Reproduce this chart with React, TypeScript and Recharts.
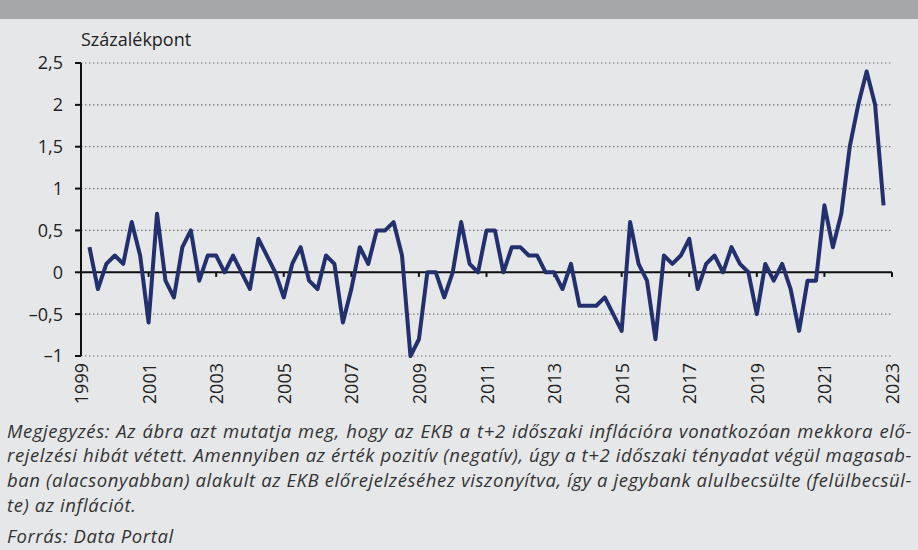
import React from 'react';
import { LineChart, Line, XAxis, YAxis, CartesianGrid, ReferenceLine } from 'recharts';

// Quarterly ECB t+2 forecast error (percentage points), first quarter shown ~1999 Q2
const firstPeriod = 1999.25;
const periodStep = 0.25;
const forecastError: number[] = [
  0.3, -0.2, 0.1, 0.2, 0.1, 0.6, 0.2, -0.6, 0.7, -0.1, -0.3, 0.3,
  0.5, -0.1, 0.2, 0.2, 0.0, 0.2, 0.0, -0.2, 0.4, 0.2, 0.0, -0.3,
  0.1, 0.3, -0.1, -0.2, 0.2, 0.1, -0.6, -0.2, 0.3, 0.1, 0.5, 0.5,
  0.6, 0.2, -1.0, -0.8, 0.0, 0.0, -0.3, 0.0, 0.6, 0.1, 0.0, 0.5,
  0.5, 0.0, 0.3, 0.3, 0.2, 0.2, 0.0, 0.0, -0.2, 0.1, -0.4, -0.4,
  -0.4, -0.3, -0.5, -0.7, 0.6, 0.1, -0.1, -0.8, 0.2, 0.1, 0.2, 0.4,
  -0.2, 0.1, 0.2, 0.0, 0.3, 0.1, 0.0, -0.5, 0.1, -0.1, 0.1, -0.2,
  -0.7, -0.1, -0.1, 0.8, 0.3, 0.7, 1.5, 2.0, 2.4, 2.0, 0.8,
];
const xTicks = [1999, 2001, 2003, 2005, 2007, 2009, 2011, 2013, 2015, 2017, 2019, 2021, 2023];
const yTicks = [-1, -0.5, 0, 0.5, 1, 1.5, 2, 2.5];

const unitLabel = 'Százalékpont';
const noteLines = [
  'Megjegyzés: Az ábra azt mutatja meg, hogy az EKB a t+2 időszaki inflációra vonatkozóan mekkora elő-',
  'rejelzési hibát vétett. Amennyiben az érték pozitív (negatív), úgy a t+2 időszaki tényadat végül magasab-',
  'ban (alacsonyabban) alakult az EKB előrejelzéséhez viszonyítva, így a jegybank alulbecsülte (felülbecsül-',
];
const noteLastLine = 'te) az inflációt.';
const sourceLine = 'Forrás: Data Portal';

const data = forecastError.map((v, i) => ({ t: firstPeriod + i * periodStep, v }));

const FONT = '"Open Sans", sans-serif';
const BG = '#e6e7e9';

const fmtY = (v: number) => String(v).replace('.', ',').replace('-', '\u2013');

const XTick = (props: any) => {
  const { x, y, payload } = props;
  return (
    <text
      x={x}
      y={y}
      transform={`rotate(-90, ${x}, ${y})`}
      textAnchor="end"
      dominantBaseline="central"
      fontSize={18}
      fontFamily={FONT}
      fill="#222"
    >
      {payload.value}
    </text>
  );
};

export default function App() {
  return (
    <div
      style={{
        position: 'absolute',
        left: 0,
        top: 0,
        width: 918,
        height: 550,
        background: BG,
        overflow: 'hidden',
        fontFamily: FONT,
      }}
    >
      <div style={{ position: 'absolute', left: 0, top: 0, width: 918, height: 19, background: '#a6a7aa' }} />
      <div
        style={{
          position: 'absolute',
          left: 81,
          top: 27,
          fontSize: 18,
          color: '#222',
          lineHeight: '24px',
          whiteSpace: 'nowrap',
        }}
      >
        {unitLabel}
      </div>
      <div style={{ position: 'absolute', left: 0, top: 0 }}>
        <LineChart
          width={918}
          height={412}
          data={data}
          margin={{ top: 63, right: 26, bottom: 0, left: 0 }}
        >
          <CartesianGrid vertical={false} stroke="#777" strokeDasharray="1.5 2.5" strokeWidth={1.2} />
          <XAxis
            dataKey="t"
            type="number"
            domain={[1999, 2023]}
            ticks={xTicks}
            interval={0}
            axisLine={false}
            tickLine={false}
            tickSize={5}
            tickMargin={2}
            height={56}
            tick={<XTick />}
          />
          <YAxis
            type="number"
            domain={[-1, 2.5]}
            ticks={yTicks}
            interval={0}
            width={81}
            axisLine={{ stroke: '#111', strokeWidth: 2 }}
            tickLine={{ stroke: '#111', strokeWidth: 2 }}
            tickSize={6}
            tickMargin={12}
            tickFormatter={fmtY}
            tick={{ fontSize: 18, fontFamily: FONT, fill: '#222' }}
          />
          <ReferenceLine y={0} stroke="#111" strokeWidth={2} />
          {xTicks.map((yr) => (
            <ReferenceLine
              key={yr}
              segment={[
                { x: yr, y: 0 },
                { x: yr, y: -0.055 },
              ]}
              stroke="#111"
              strokeWidth={2}
            />
          ))}
          <Line
            type="linear"
            dataKey="v"
            stroke="#22306e"
            strokeWidth={4}
            strokeLinejoin="round"
            dot={false}
            activeDot={false}
            isAnimationActive={false}
          />
        </LineChart>
      </div>
      <div
        style={{
          position: 'absolute',
          left: 7,
          top: 418.5,
          width: 905,
          fontSize: 18.5,
          letterSpacing: 0.6,
          fontStyle: 'italic',
          color: '#333',
          lineHeight: '24.7px',
        }}
      >
        {noteLines.map((l, i) => (
          <div key={i} style={{ whiteSpace: 'nowrap', textAlign: 'justify', textAlignLast: 'justify' }}>
            {l}
          </div>
        ))}
        <div style={{ whiteSpace: 'nowrap' }}>{noteLastLine}</div>
        <div style={{ whiteSpace: 'nowrap', marginTop: 6.3 }}>{sourceLine}</div>
      </div>
    </div>
  );
}
